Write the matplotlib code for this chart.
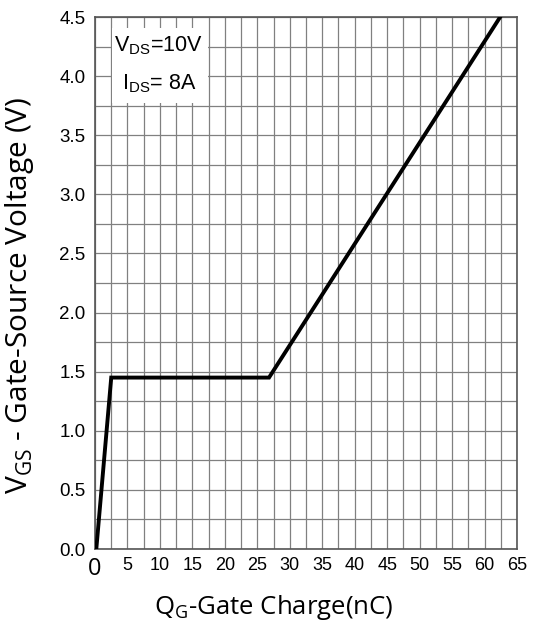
import matplotlib
matplotlib.use("Agg")
import matplotlib.pyplot as plt
from matplotlib.patches import Rectangle
import numpy as np

# gate charge curve (nC, V)
qg = [0.2, 2.5, 26.8, 62.4]
vgs = [0.0, 1.45, 1.45, 4.5]

xticks = [0, 5, 10, 15, 20, 25, 30, 35, 40, 45, 50, 55, 60, 65]
yticks = [0.0, 0.5, 1.0, 1.5, 2.0, 2.5, 3.0, 3.5, 4.0, 4.5]

fig = plt.figure(figsize=(5.46, 6.25), dpi=100)
ax = fig.add_axes([0.174, 0.1216, 0.773, 0.8512])

ax.set_xlim(0, 65)
ax.set_ylim(0, 4.5)
ax.set_xticks(np.arange(0, 65.01, 2.5), minor=True)
ax.set_yticks(np.arange(0, 4.51, 0.25), minor=True)
ax.set_xticks(xticks)
ax.set_yticks(yticks)
ax.set_xticklabels([str(v) for v in xticks], family="Liberation Sans", fontsize=13)
ax.set_yticklabels(["%.1f" % v for v in yticks], family="Liberation Sans", fontsize=13.5)
ax.xaxis.get_ticklabels()[0].set_fontsize(17)
ax.xaxis.get_ticklabels()[0].set_family("Open Sans")
ax.tick_params(which="both", length=0)
ax.tick_params(axis="y", pad=7)
ax.tick_params(axis="x", pad=6)

ax.grid(True, which="both", color="#808080", lw=0.9)
ax.set_axisbelow(True)
for s in ax.spines.values():
    s.set_color("#555555")
    s.set_linewidth(1.2)

# white box behind the test conditions
ax.add_patch(Rectangle((2.65, 3.77), 14.7, 0.64, facecolor="white",
                       edgecolor="none", zorder=1.5))
ax.text(2.9, 4.26, r"V$_{\mathregular{DS}}$=10V", family="Liberation Sans",
        fontsize=15.5, va="center", ha="left", zorder=3)
ax.text(4.2, 3.94, r"I$_{\mathregular{DS}}$= 8A", family="Liberation Sans",
        fontsize=15.5, va="center", ha="left", zorder=3)

ax.plot(qg, vgs, color="black", lw=2.8, zorder=4, solid_joinstyle="miter")

ax.set_xlabel(r"Q$_{\mathregular{G}}$-Gate Charge(nC)", family="Open Sans",
              fontsize=18.5)
ax.set_ylabel(r"V$_{\mathregular{GS}}$ - Gate-Source Voltage (V)", family="Open Sans",
              fontsize=21.5)
ax.xaxis.set_label_coords(0.423, -0.082)
ax.yaxis.set_label_coords(-0.14, 0.476)

fig.savefig("out.png", dpi=100)
print("Saved plot to out.png")
